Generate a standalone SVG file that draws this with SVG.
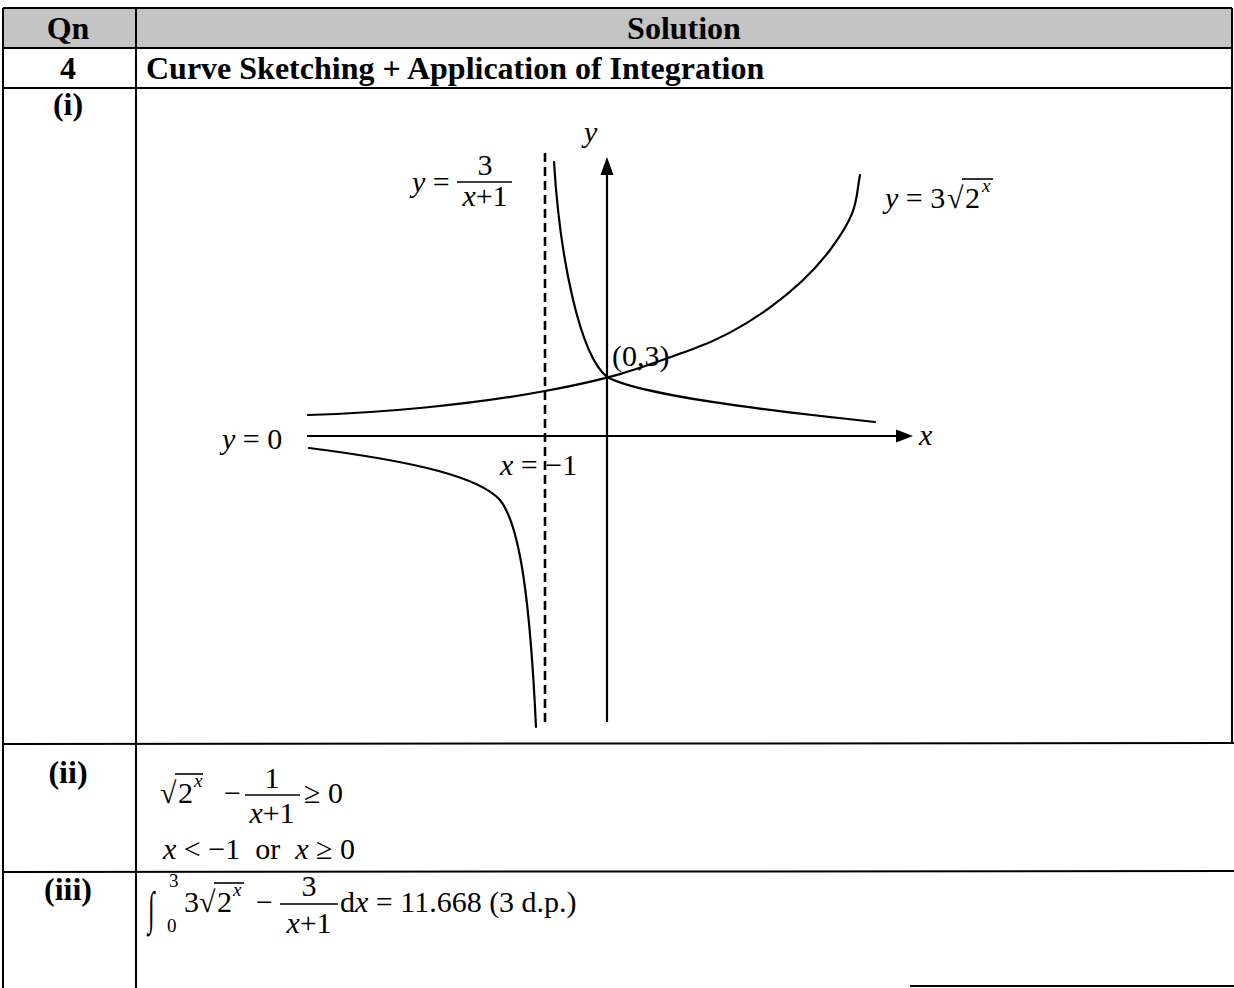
<svg xmlns="http://www.w3.org/2000/svg" width="1234" height="988" viewBox="0 0 1234 988">
<style>
.b{font-family:"Liberation Serif","Times New Roman",serif;font-weight:bold;font-size:32px;fill:#000}
.m{font-family:"Liberation Serif","Times New Roman",serif;font-size:30px;fill:#000}
.s{font-family:"Liberation Serif","Times New Roman",serif;font-size:19px;fill:#000}
.i{font-style:italic}
.tl{stroke:#000;stroke-width:2;fill:none}
.ax{stroke:#000;stroke-width:2.2;fill:none}
.cv{stroke:#000;stroke-width:2.2;fill:none;stroke-linecap:round}
.bar{stroke:#000;stroke-width:1.6}
</style>
<rect width="1234" height="988" fill="#fff"/>
<g id="table">
<rect x="3" y="8" width="1229" height="40" fill="#c4c4c4"/>
<line class="tl" x1="3" y1="8" x2="1232" y2="8"/>
<line class="tl" x1="3" y1="48" x2="1232" y2="48"/>
<line class="tl" x1="3" y1="88" x2="1232" y2="88"/>
<line class="tl" x1="3" y1="744" x2="1234" y2="743"/>
<line class="tl" x1="3" y1="872" x2="1234" y2="871"/>
<line class="tl" x1="3" y1="8" x2="3" y2="988"/>
<line class="tl" x1="136" y1="8" x2="136" y2="988"/>
<line class="tl" x1="1232" y1="8" x2="1232" y2="743"/>
<line class="tl" x1="910" y1="986" x2="1234" y2="986"/>
<text class="b" x="68" y="39" text-anchor="middle">Qn</text>
<text class="b" x="684" y="39" text-anchor="middle">Solution</text>
<text class="b" x="68" y="79" text-anchor="middle">4</text>
<text class="b" x="146" y="79">Curve Sketching + Application of Integration</text>
<text class="b" x="68" y="115" text-anchor="middle">(i)</text>
<text class="b" x="68" y="783" text-anchor="middle">(ii)</text>
<text class="b" x="68" y="900" text-anchor="middle">(iii)</text>
</g>
<g id="connectors">
<line class="ax" x1="307" y1="436" x2="898" y2="436"/>
<polygon points="913,436 896,429.5 896,442.5" fill="#000"/>
<line class="ax" x1="607" y1="722" x2="607" y2="173"/>
<polygon points="607,157 600.5,175 613.5,175" fill="#000"/>
<line x1="545" y1="153" x2="545" y2="722" stroke="#000" stroke-width="2.6" stroke-dasharray="9 5"/>
</g>
<g id="curve-exp">
<path class="cv" d="M308,415 C380,413 470,405 545,391 S640,368 693,349 S800,290 830,250 S855,200 860,175"/>
</g>
<g id="curve-hyp-upper">
<path class="cv" d="M554,162 C560,260 580,355 607,377 C640,395 760,410 875,422"/>
</g>
<g id="curve-hyp-lower">
<path class="cv" d="M309,448 C420,462 480,478 500,500 C520,525 530,600 536,727"/>
</g>
<g id="labels">
<text class="m i" x="584" y="142">y</text>
<text class="m i" x="919" y="445">x</text>
<text class="m" x="222" y="449"><tspan class="i">y</tspan> = 0</text>
<text class="m" x="500" y="475"><tspan class="i">x</tspan> = −1</text>
<text class="m" x="612" y="366">(0,3)</text>
<text class="m" x="412" y="192"><tspan class="i">y</tspan> =</text>
<text class="m" x="485" y="175" text-anchor="middle">3</text>
<line class="bar" x1="457" y1="182" x2="512" y2="182"/>
<text class="m" x="485" y="206" text-anchor="middle"><tspan class="i">x</tspan>+1</text>
<text class="m" x="885" y="208"><tspan class="i">y</tspan> = 3</text>
<text class="m" x="947" y="208">√</text>
<line class="bar" x1="962" y1="179" x2="993" y2="179"/>
<text class="m" x="965" y="208">2</text>
<text class="s i" x="982" y="192">x</text>
</g>
<g id="part-ii">
<text class="m" x="160" y="803">√</text>
<line class="bar" x1="175" y1="774" x2="203" y2="774"/>
<text class="m" x="178" y="803">2</text>
<text class="s i" x="194" y="787">x</text>
<text class="m" x="224" y="803">−</text>
<text class="m" x="272" y="788" text-anchor="middle">1</text>
<line class="bar" x1="245" y1="795" x2="300" y2="795"/>
<text class="m" x="272" y="823" text-anchor="middle"><tspan class="i">x</tspan>+1</text>
<text class="m" x="304" y="803">≥ 0</text>
<text class="m" x="163" y="859"><tspan class="i">x</tspan> &lt; −1&#160; or&#160; <tspan class="i">x</tspan> ≥ 0</text>
</g>
<g id="part-iii">
<text class="m" transform="translate(148,924) scale(0.8,1.55)" font-size="62">∫</text>
<text class="s" x="169" y="887">3</text>
<text class="s" x="167" y="932">0</text>
<text class="m" x="184" y="912">3</text>
<text class="m" x="199" y="912">√</text>
<line class="bar" x1="214" y1="883" x2="244" y2="883"/>
<text class="m" x="217" y="912">2</text>
<text class="s i" x="233" y="896">x</text>
<text class="m" x="256" y="912">−</text>
<text class="m" x="309" y="896" text-anchor="middle">3</text>
<line class="bar" x1="280" y1="904" x2="338" y2="904"/>
<text class="m" x="309" y="933" text-anchor="middle"><tspan class="i">x</tspan>+1</text>
<text class="m" x="340" y="912">d<tspan class="i">x</tspan> = 11.668 (3 d.p.)</text>
</g>
</svg>
